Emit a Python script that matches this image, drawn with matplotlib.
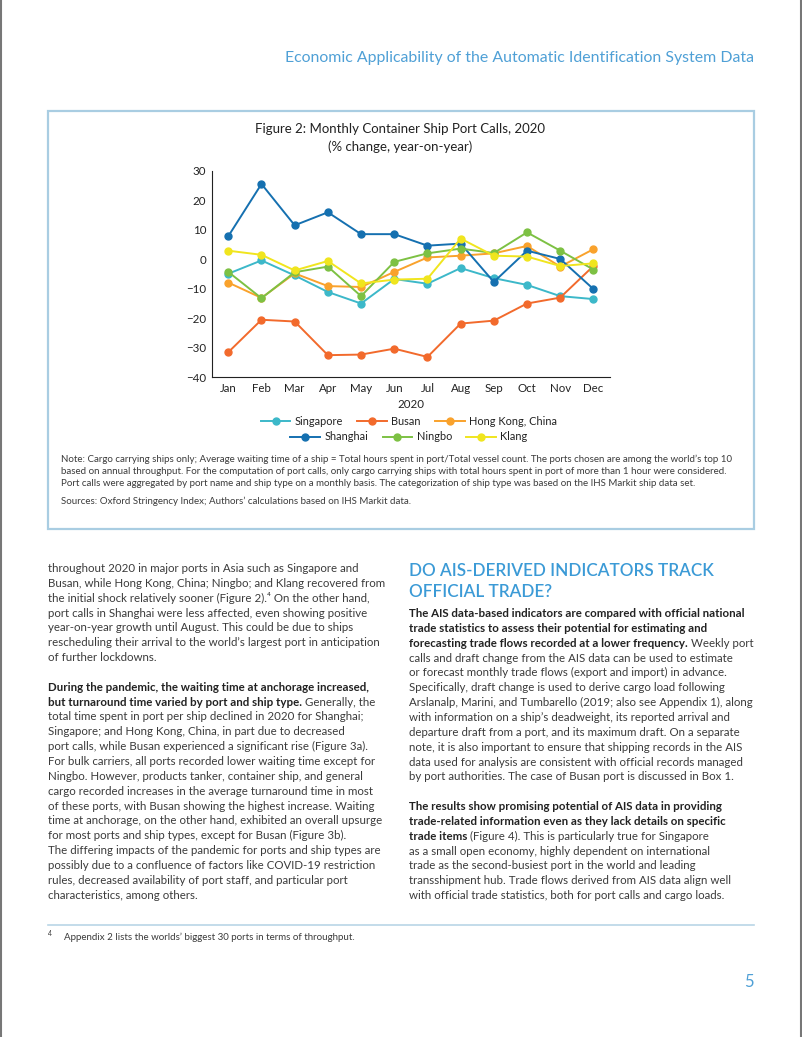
import matplotlib.pyplot as plt
from matplotlib.lines import Line2D
from matplotlib.patches import Rectangle

# chart data (port calls, % change year-on-year, 2020)
months = ['Jan', 'Feb', 'Mar', 'Apr', 'May', 'Jun', 'Jul', 'Aug', 'Sep', 'Oct', 'Nov', 'Dec']
singapore = [-4.9, -0.4, -5.5, -11.1, -15.0, -6.7, -8.3, -3.0, -6.4, -8.7, -12.5, -13.5]
busan = [-31.5, -20.5, -21.1, -32.5, -32.3, -30.3, -33.1, -21.8, -20.8, -15.0, -13.0, -2.3]
hong_kong = [-7.9, -13.1, -4.8, -9.1, -9.4, -4.3, 0.6, 1.2, 2.0, 4.5, -2.5, 3.4]
shanghai = [7.8, 25.5, 11.5, 15.9, 8.5, 8.5, 4.6, 5.3, -7.7, 2.9, 0.1, -10.1]
ningbo = [-4.3, -13.2, -4.4, -2.5, -12.5, -0.9, 2.0, 3.6, 2.1, 9.1, 2.9, -3.5]
klang = [2.9, 1.5, -3.8, -0.6, -8.2, -6.9, -6.6, 7.0, 1.2, 0.9, -2.3, -1.4]

series_names = ['Singapore', 'Busan', 'Hong Kong, China', 'Shanghai', 'Ningbo', 'Klang']
series_values = [singapore, busan, hong_kong, shanghai, ningbo, klang]
series_colors = ['#3cb8c9', '#f26a2c', '#f9a22c', '#1570b0', '#7dc143', '#f0e51e']
y_ticks = [-40, -30, -20, -10, 0, 10, 20, 30]

W, H = 802, 1037
FONT = ['Lato', 'DejaVu Sans']
BODY = '#3b3b3b'
DARK = '#222222'
BLUE = '#3b9ad6'

plt.rcParams['font.family'] = FONT
fig = plt.figure(figsize=(W / 100, H / 100), dpi=100)
fig.patch.set_facecolor('white')


def fx(x):
    return x / W


def fy(y):
    return 1 - y / H


def put(x, y, s, **kw):
    return fig.text(fx(x), fy(y), s, **kw)


# page edges
fig.add_artist(Line2D([fx(1), fx(1)], [0, 1], color='#777777', lw=1.5))
fig.add_artist(Line2D([fx(801), fx(801)], [0, 1], color='#777777', lw=1.5))

# running header and page number
put(754, 62, 'Economic Applicability of the Automatic Identification System Data',
    ha='right', va='baseline', fontsize=11.4, color='#4fa0d6')
put(754, 987, '5', ha='right', va='baseline', fontsize=12, color='#4fa0d6')

# figure box
fig.add_artist(Rectangle((fx(48), fy(529)), (754 - 48) / W, (529 - 111) / H,
                         transform=fig.transFigure, fill=False,
                         edgecolor='#a9cde2', linewidth=1.6))

put(400, 133, 'Figure 2: Monthly Container Ship Port Calls, 2020',
    ha='center', va='baseline', fontsize=9.5, color=DARK)
put(400, 151, '(% change, year-on-year)', ha='center', va='baseline',
    fontsize=9.5, color=DARK)

# chart
ax = fig.add_axes([fx(211.7), fy(377.3), (610 - 211.7) / W, (377.3 - 170.7) / H])
x = list(range(len(months)))
for name, vals, col in zip(series_names, series_values, series_colors):
    ax.plot(x, vals, color=col, lw=1.4, marker='o', markersize=5, label=name)
ax.set_xlim(-0.5, 11.5)
ax.set_ylim(-40, 30)
ax.set_xticks(x)
ax.set_xticklabels(months)
ax.set_yticks(y_ticks)
ax.set_xlabel('2020', fontsize=8.3, color=DARK, labelpad=4)
ax.tick_params(length=0, labelsize=8.3, colors=DARK, pad=4)
for s in ['top', 'right']:
    ax.spines[s].set_visible(False)
for s in ['left', 'bottom']:
    ax.spines[s].set_color('#222222')
    ax.spines[s].set_linewidth(0.8)
ax.set_facecolor('none')

# legend in two centred rows
handles = [Line2D([], [], color=c, lw=1.4, marker='o', markersize=5) for c in series_colors]
for row, yrow in [(0, 421), (1, 437)]:
    idx = range(row * 3, row * 3 + 3)
    fig.legend([handles[i] for i in idx], [series_names[i] for i in idx],
               loc='center', bbox_to_anchor=(fx(409), fy(yrow)), ncol=3,
               frameon=False, fontsize=7.9, handlelength=2.7, handletextpad=0.4,
               columnspacing=1.3, borderpad=0, labelcolor=DARK)

# notes
note_lines = [
    'Note: Cargo carrying ships only; Average waiting time of a ship = Total hours spent in port/Total vessel count. The ports chosen are among the world\u2019s top 10',
    'based on annual throughput. For the computation of port calls, only cargo carrying ships with total hours spent in port of more than 1 hour were considered.',
    'Port calls were aggregated by port name and ship type on a monthly basis. The categorization of ship type was based on the IHS Markit ship data set.',
]
for i, line in enumerate(note_lines):
    put(61, 462 + 12 * i, line, va='baseline', fontsize=7.05, color=BODY)
put(61, 504, 'Sources: Oxford Stringency Index; Authors\u2019 calculations based on IHS Markit data.',
    va='baseline', fontsize=7.05, color=BODY)

# body text, segments of (text, bold)
left_col = [
    [('throughout 2020 in major ports in Asia such as Singapore and', False)],
    [('Busan, while Hong Kong, China; Ningbo; and Klang recovered from', False)],
    [('the initial shock relatively sooner (Figure 2).\u2074 On the other hand,', False)],
    [('port calls in Shanghai were less affected, even showing positive', False)],
    [('year-on-year growth until August. This could be due to ships', False)],
    [('rescheduling their arrival to the world\u2019s largest port in anticipation', False)],
    [('of further lockdowns.', False)],
    [],
    [('During the pandemic, the waiting time at anchorage increased,', True)],
    [('but turnaround time varied by port and ship type.', True), (' Generally, the', False)],
    [('total time spent in port per ship declined in 2020 for Shanghai;', False)],
    [('Singapore; and Hong Kong, China, in part due to decreased', False)],
    [('port calls, while Busan experienced a significant rise (Figure 3a).', False)],
    [('For bulk carriers, all ports recorded lower waiting time except for', False)],
    [('Ningbo. However, products tanker, container ship, and general', False)],
    [('cargo recorded increases in the average turnaround time in most', False)],
    [('of these ports, with Busan showing the highest increase. Waiting', False)],
    [('time at anchorage, on the other hand, exhibited an overall upsurge', False)],
    [('for most ports and ship types, except for Busan (Figure 3b).', False)],
    [('The differing impacts of the pandemic for ports and ship types are', False)],
    [('possibly due to a confluence of factors like COVID-19 restriction', False)],
    [('rules, decreased availability of port staff, and particular port', False)],
    [('characteristics, among others.', False)],
]
right_col = [
    [('The AIS data-based indicators are compared with official national', True)],
    [('trade statistics to assess their potential for estimating and', True)],
    [('forecasting trade flows recorded at a lower frequency.', True), (' Weekly port', False)],
    [('calls and draft change from the AIS data can be used to estimate', False)],
    [('or forecast monthly trade flows (export and import) in advance.', False)],
    [('Specifically, draft change is used to derive cargo load following', False)],
    [('Arslanalp, Marini, and Tumbarello (2019; also see Appendix 1), along', False)],
    [('with information on a ship\u2019s deadweight, its reported arrival and', False)],
    [('departure draft from a port, and its maximum draft. On a separate', False)],
    [('note, it is also important to ensure that shipping records in the AIS', False)],
    [('data used for analysis are consistent with official records managed', False)],
    [('by port authorities. The case of Busan port is discussed in Box 1.', False)],
    [],
    [('The results show promising potential of AIS data in providing', True)],
    [('trade-related information even as they lack details on specific', True)],
    [('trade items', True), (' (Figure 4). This is particularly true for Singapore', False)],
    [('as a small open economy, highly dependent on international', False)],
    [('trade as the second-busiest port in the world and leading', False)],
    [('transshipment hub. Trade flows derived from AIS data align well', False)],
    [('with official trade statistics, both for port calls and cargo loads.', False)],
]

renderer = fig.canvas.get_renderer()
BODY_SIZE = 8.3
LEAD = 14.85


def draw_column(lines, x0, y0):
    for i, segs in enumerate(lines):
        xpos = x0
        for text, bold in segs:
            t = put(xpos, y0 + LEAD * i, text, va='baseline', fontsize=BODY_SIZE,
                    color=DARK if bold else BODY,
                    fontweight='bold' if bold else 'normal')
            xpos += t.get_window_extent(renderer).width


draw_column(left_col, 48, 572)
draw_column(right_col, 409, 617)

put(409, 576, 'DO AIS-DERIVED INDICATORS TRACK', va='baseline', fontsize=12.3,
    color=BLUE, fontweight='semibold')
put(409, 597, 'OFFICIAL TRADE?', va='baseline', fontsize=12.3,
    color=BLUE, fontweight='semibold')

# footnote
fig.add_artist(Line2D([fx(48), fx(754)], [fy(925), fy(925)], color='#b9d6e6', lw=1.2))
put(48, 936, '4', va='baseline', fontsize=5, color=BODY)
put(64, 940, 'Appendix 2 lists the worlds\u2019 biggest 30 ports in terms of throughput.',
    va='baseline', fontsize=7, color=BODY)

fig.savefig('out.png', dpi=100)
